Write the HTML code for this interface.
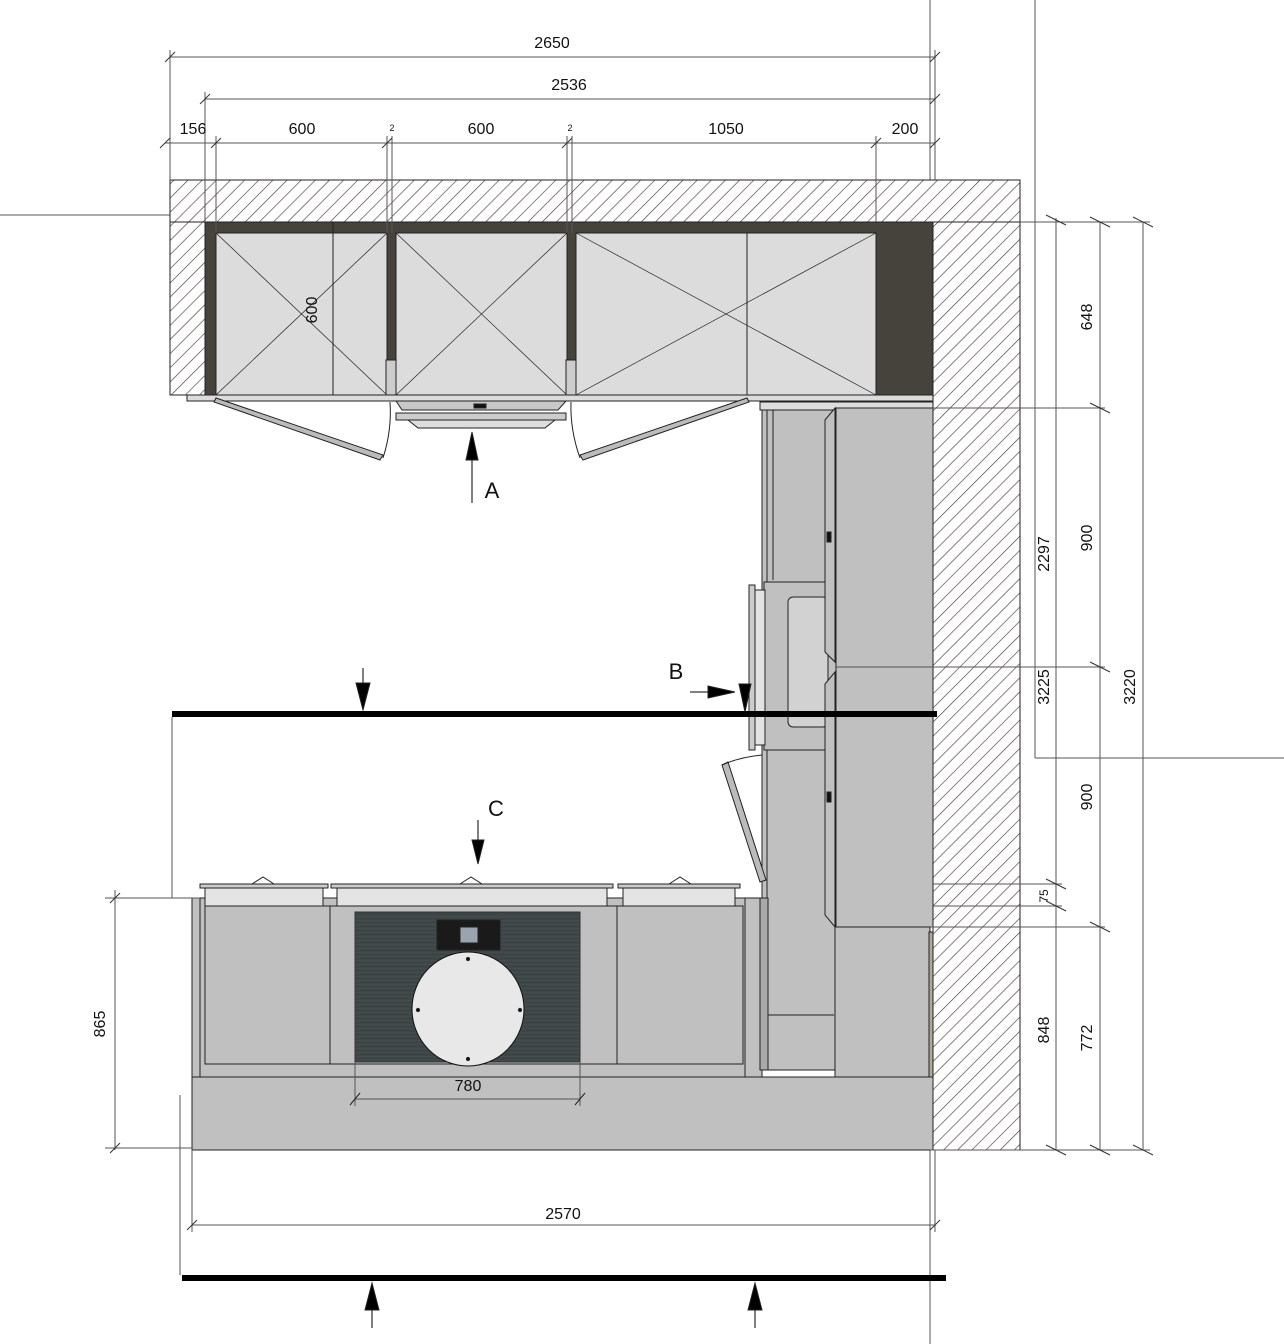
<!DOCTYPE html>
<html><head><meta charset="utf-8"><style>html,body{margin:0;padding:0;background:#fff}svg{display:block}text{font-family:"Liberation Sans",sans-serif;fill:#111}</style></head><body>
<svg width="1284" height="1344" viewBox="0 0 1284 1344" xmlns="http://www.w3.org/2000/svg">
<defs>
<pattern id="h" patternUnits="userSpaceOnUse" width="10" height="10" patternTransform="rotate(45)">
<rect width="10" height="10" fill="#fff"/><line x1="0" y1="0" x2="0" y2="10" stroke="#4a3c3c" stroke-width="1.3"/>
</pattern>
<pattern id="cg" patternUnits="userSpaceOnUse" width="4" height="4"><rect width="4" height="4" fill="#3d4547"/><line x1="0" y1="0" x2="4" y2="0" stroke="#4c5456" stroke-width="1"/></pattern>
</defs>
<g stroke="#222" stroke-width="1" fill="none">
<!-- outer ref lines -->
<line x1="930" y1="0" x2="930" y2="1344" stroke="#555"/>
<line x1="1035" y1="0" x2="1035" y2="758" stroke="#555"/>
<line x1="1035" y1="758" x2="1284" y2="758" stroke="#555"/>
<line x1="0" y1="215" x2="170" y2="215" stroke="#555"/>
<!-- walls -->
<rect x="170" y="180" width="850" height="42" fill="url(#h)"/>
<rect x="170" y="222" width="35" height="173" fill="url(#h)"/>
<rect x="933" y="222" width="87" height="928" fill="url(#h)"/>
<!-- dark back -->
<rect x="205" y="222" width="728" height="173" fill="#45433c" stroke="#222"/>
<!-- upper cabinets -->
<rect x="216" y="233" width="171" height="162" fill="#dcdcdc"/>
<rect x="396" y="233" width="171" height="162" fill="#dcdcdc"/>
<rect x="576" y="233" width="300" height="162" fill="#dcdcdc"/>
<line x1="747" y1="233" x2="747" y2="395"/>
<line x1="333" y1="222" x2="333" y2="400"/>
<line x1="216" y1="233" x2="387" y2="395" stroke-width=".7"/><line x1="387" y1="233" x2="216" y2="395" stroke-width=".7"/>
<line x1="396" y1="233" x2="567" y2="395" stroke-width=".7"/><line x1="567" y1="233" x2="396" y2="395" stroke-width=".7"/>
<line x1="576" y1="233" x2="876" y2="395" stroke-width=".7"/><line x1="876" y1="233" x2="576" y2="395" stroke-width=".7"/>
<rect x="386" y="360" width="10" height="35" fill="#ccc"/><rect x="566" y="360" width="10" height="35" fill="#ccc"/>
<rect x="187" y="395" width="746" height="6" fill="#dcdcdc"/>
<!-- doors -->
<polygon points="216,398 383,455 380,460 214,402" fill="#bbb"/>
<polygon points="747,398 580,455 583,460 749,402" fill="#bbb"/>
<path d="M383,458 Q392,430 390,402"/><path d="M580,458 Q570,430 571,402"/>
<!-- hood -->
<polygon points="396,401 566,401 558,410 402,410" fill="#c8c8c8"/>
<rect x="474" y="404" width="12" height="4" fill="#111"/>
<rect x="396" y="413" width="170" height="7" fill="#ccc"/>
<polygon points="408,420 555,420 545,428 418,428" fill="#ddd"/>
<!-- right column -->
<rect x="760" y="402" width="173" height="8" fill="#ddd"/>
<rect x="762" y="410" width="75" height="660" fill="#c0c0c0"/>
<line x1="767" y1="410" x2="767" y2="1070"/><line x1="773" y1="410" x2="773" y2="580"/>
<rect x="764" y="582" width="72" height="168" fill="#c0c0c0"/>
<rect x="788" y="597" width="40" height="130" rx="5" fill="#d2d2d2"/>
<rect x="749" y="585" width="6" height="165" fill="#ccc"/><rect x="755" y="590" width="10" height="155" fill="#e2e2e2"/>
<rect x="836" y="408" width="97" height="519" fill="#c0c0c0"/>
<polygon points="825,420 835,408 835,662 825,652" fill="#c0c0c0"/>
<polygon points="825,684 835,672 835,927 825,915" fill="#c0c0c0"/>
<line x1="835" y1="667" x2="933" y2="667"/>
<rect x="827" y="532" width="4" height="10" fill="#111"/><rect x="827" y="792" width="4" height="10" fill="#111"/>
<polygon points="722,765 728,762 766,880 760,882" fill="#bbb"/>
<path d="M722,765 Q740,757 762,755"/>
<line x1="767" y1="1015" x2="834" y2="1015"/>
<rect x="835" y="927" width="95" height="191" fill="#c0c0c0"/>
<rect x="929" y="932" width="4" height="185" fill="#b0a898"/>
<!-- island -->
<rect x="192" y="1077" width="741" height="73" fill="#c0c0c0"/>
<rect x="192" y="898" width="570" height="179" fill="#c0c0c0"/>
<rect x="205" y="906" width="125" height="158" fill="#c0c0c0"/>
<rect x="330" y="906" width="287" height="158" fill="#c0c0c0"/>
<rect x="617" y="906" width="126" height="158" fill="#c0c0c0"/>
<line x1="200" y1="898" x2="200" y2="1077"/><line x1="745" y1="898" x2="745" y2="1077"/>
<rect x="355" y="912" width="225" height="150" fill="url(#cg)" stroke="#333"/>
<rect x="437" y="920" width="63" height="30" fill="#1a1a1a"/><rect x="460" y="927" width="18" height="16" fill="#9aa4b0"/>
<ellipse cx="468" cy="1009" rx="56" ry="57" fill="#e8e8e8" stroke="#111"/>
<circle cx="468" cy="959" r="1.6" fill="#111"/><circle cx="468" cy="1059" r="1.6" fill="#111"/><circle cx="418" cy="1010" r="1.6" fill="#111"/><circle cx="520" cy="1010" r="1.6" fill="#111"/>
<rect x="760" y="898" width="8" height="172" fill="#aaa"/>
<rect x="200" y="884" width="128" height="4" fill="#ccc"/><rect x="205" y="888" width="118" height="18" fill="#e4e4e4"/>
<rect x="331" y="884" width="282" height="4" fill="#ccc"/><rect x="337" y="888" width="270" height="18" fill="#e4e4e4"/>
<rect x="618" y="884" width="122" height="4" fill="#ccc"/><rect x="623" y="888" width="112" height="18" fill="#e4e4e4"/>
<path d="M252,884 L263,877 L274,884"/><path d="M460,884 L471,877 L482,884"/><path d="M669,884 L680,877 L691,884"/>
<!-- dim 780 -->
<line x1="355" y1="1062" x2="355" y2="1106" stroke="#555"/><line x1="580" y1="1062" x2="580" y2="1106" stroke="#555"/>
<line x1="355" y1="1099" x2="580" y2="1099" stroke="#555"/>
<line x1="350" y1="1105" x2="360" y2="1093"/><line x1="575" y1="1105" x2="585" y2="1093"/>
<!-- thick section lines -->
<rect x="172" y="711" width="765" height="6" fill="#000" stroke="none"/>
<rect x="182" y="1275" width="764" height="6" fill="#000" stroke="none"/>
<line x1="172" y1="717" x2="172" y2="898" stroke="#555"/>
<line x1="180" y1="1095" x2="180" y2="1275" stroke="#555"/>
<!-- top dims -->
<g stroke="#555">
<line x1="170" y1="57" x2="935" y2="57"/><line x1="205" y1="99" x2="935" y2="99"/><line x1="165" y1="143" x2="935" y2="143"/>
<line x1="170" y1="50" x2="170" y2="180"/><line x1="205" y1="92" x2="205" y2="222"/><line x1="216" y1="136" x2="216" y2="233"/>
<line x1="387" y1="136" x2="387" y2="233"/><line x1="392" y1="136" x2="392" y2="233"/><line x1="567" y1="136" x2="567" y2="233"/><line x1="572" y1="136" x2="572" y2="233"/>
<line x1="876" y1="136" x2="876" y2="222"/><line x1="935" y1="50" x2="935" y2="180"/>
<!-- right dims -->
<line x1="1056" y1="218" x2="1056" y2="1150"/><line x1="1100" y1="222" x2="1100" y2="1150"/><line x1="1143" y1="222" x2="1143" y2="1150"/>
<line x1="1020" y1="222" x2="1150" y2="222"/><line x1="933" y1="408" x2="1105" y2="408"/><line x1="835" y1="667" x2="1105" y2="667"/>
<line x1="933" y1="884" x2="1062" y2="884"/><line x1="933" y1="906" x2="1062" y2="906"/><line x1="930" y1="927" x2="1105" y2="927"/>
<line x1="930" y1="1150" x2="1150" y2="1150"/>
<line x1="105" y1="898" x2="200" y2="898"/><line x1="105" y1="1148" x2="192" y2="1148"/><line x1="115" y1="890" x2="115" y2="1150"/>
<line x1="192" y1="1150" x2="192" y2="1232"/><line x1="935" y1="1150" x2="935" y2="1232"/><line x1="192" y1="1225" x2="935" y2="1225"/>
</g>
<g stroke="#333">
<line x1="165" y1="62" x2="175" y2="52"/><line x1="930" y1="62" x2="940" y2="52"/>
<line x1="200" y1="104" x2="210" y2="94"/><line x1="930" y1="104" x2="940" y2="94"/>
<line x1="160" y1="148" x2="170" y2="138"/><line x1="211" y1="148" x2="221" y2="138"/><line x1="382" y1="148" x2="392" y2="138"/><line x1="562" y1="148" x2="572" y2="138"/><line x1="871" y1="148" x2="881" y2="138"/><line x1="930" y1="148" x2="940" y2="138"/>
<line x1="1046" y1="215" x2="1066" y2="225"/><line x1="1090" y1="217" x2="1110" y2="227"/><line x1="1133" y1="217" x2="1153" y2="227"/>
<line x1="1090" y1="403" x2="1110" y2="413"/><line x1="1090" y1="662" x2="1110" y2="672"/><line x1="1090" y1="922" x2="1110" y2="932"/>
<line x1="1046" y1="879" x2="1066" y2="889"/><line x1="1046" y1="901" x2="1066" y2="911"/>
<line x1="1046" y1="1145" x2="1066" y2="1155"/><line x1="1090" y1="1145" x2="1110" y2="1155"/><line x1="1133" y1="1145" x2="1153" y2="1155"/>
<line x1="187" y1="1230" x2="197" y2="1220"/><line x1="930" y1="1230" x2="940" y2="1220"/>
<line x1="110" y1="903" x2="120" y2="893"/><line x1="110" y1="1153" x2="120" y2="1143"/>
</g>
<!-- arrows -->
<line x1="472" y1="460" x2="472" y2="503" stroke="#000"/><polygon points="466,460 478,460 472,432" fill="#000"/>
<line x1="363" y1="668" x2="363" y2="690" stroke="#000"/><polygon points="356,683 370,683 363,710" fill="#000"/>
<line x1="690" y1="692" x2="715" y2="692" stroke="#000"/><polygon points="708,686 735,692 708,698" fill="#000"/>
<polygon points="739,684 751,684 745,712" fill="#000"/>
<line x1="478" y1="820" x2="478" y2="843" stroke="#000"/><polygon points="472,840 484,840 478,864" fill="#000"/>
<line x1="372" y1="1305" x2="372" y2="1328" stroke="#000"/><polygon points="365,1310 379,1310 372,1283" fill="#000"/>
<line x1="755" y1="1305" x2="755" y2="1328" stroke="#000"/><polygon points="748,1310 762,1310 755,1283" fill="#000"/>
</g>
<g font-size="16" text-anchor="middle">
<text x="552" y="48">2650</text><text x="569" y="90">2536</text>
<text x="193" y="134">156</text><text x="302" y="134">600</text><text x="481" y="134">600</text><text x="726" y="134">1050</text><text x="905" y="134">200</text>
<text x="392" y="131" font-size="9">2</text><text x="570" y="131" font-size="9">2</text>
<text x="468" y="1091">780</text><text x="563" y="1219">2570</text>
<text x="492" y="498" font-size="22">A</text><text x="676" y="679" font-size="22">B</text><text x="496" y="816" font-size="22">C</text>
<text transform="translate(317,310) rotate(-90)">600</text>
<text transform="translate(105,1024) rotate(-90)">865</text>
<text transform="translate(1092,317) rotate(-90)">648</text>
<text transform="translate(1092,538) rotate(-90)">900</text>
<text transform="translate(1092,797) rotate(-90)">900</text>
<text transform="translate(1092,1038) rotate(-90)">772</text>
<text transform="translate(1049,554) rotate(-90)">2297</text>
<text transform="translate(1049,687) rotate(-90)">3225</text>
<text transform="translate(1049,1030) rotate(-90)">848</text>
<text transform="translate(1048,896) rotate(-90)" font-size="12">75</text>
<text transform="translate(1135,687) rotate(-90)">3220</text>
</g>
</svg>
</body></html>
